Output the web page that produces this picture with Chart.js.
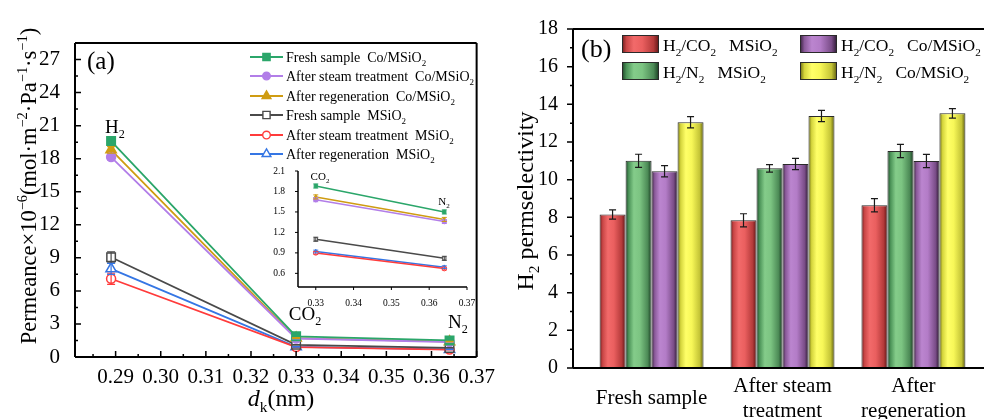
<!DOCTYPE html>
<html>
<head>
<meta charset="utf-8">
<script src="https://cdn.jsdelivr.net/npm/chart.js@4.4.1/dist/chart.umd.min.js"></script>
<style>
html,body{margin:0;padding:0;background:#fff;}
body{width:984px;height:419px;overflow:hidden;position:relative;}
canvas{position:absolute;top:0;}
#permChart{left:0;}
#insetChart{left:250px;top:150px;}
#selChart{left:490px;}
</style>
</head>
<body>
<canvas id="permChart" width="495" height="419"></canvas>
<canvas id="insetChart" width="230" height="160"></canvas>
<canvas id="selChart" width="520" height="419"></canvas>
<script>
// Panel (a): permeance vs kinetic diameter (H2, CO2, N2)
const diameters = [0.289, 0.33, 0.364];
const freshCo = [19.6, 1.88, 1.50];
const steamCo = [18.15, 1.68, 1.36];
const regenCo = [18.8, 1.72, 1.39];
const freshM = [9.05, 1.10, 0.82];
const steamM = [7.1, 0.90, 0.67];
const regenM = [8.0, 0.92, 0.69];
const freshCoErr = [0.3, 0.03, 0.03];
const steamCoErr = [0.25, 0.03, 0.03];
const regenCoErr = [0.3, 0.03, 0.03];
const freshMErr = [0.5, 0.03, 0.03];
const steamMErr = [0.5, 0.02, 0.02];
const regenMErr = [0.5, 0.02, 0.02];
const permTicksX = [0.29, 0.30, 0.31, 0.32, 0.33, 0.34, 0.35, 0.36, 0.37];
const permMinorX = [0.285, 0.295, 0.305, 0.315, 0.325, 0.335, 0.345, 0.355, 0.365];
const permTicksY = [0, 3, 6, 9, 12, 15, 18, 21, 24, 27];
const permMinorY = [1.5, 4.5, 7.5, 10.5, 13.5, 16.5, 19.5, 22.5, 25.5];
const insetTicksX = [0.33, 0.34, 0.35, 0.36, 0.37];
const insetTicksY = [0.6, 0.9, 1.2, 1.5, 1.8, 2.1];

// Panel (b): H2 permselectivity
const stages = [['Fresh sample'], ['After steam', 'treatment'], ['After', 'regeneration']];
const selCO2M = [8.15, 7.84, 8.64];
const selN2M = [11.0, 10.6, 11.52];
const selCO2Co = [10.45, 10.83, 10.99];
const selN2Co = [13.05, 13.38, 13.52];
const selCO2MErr = [0.25, 0.35, 0.35];
const selN2MErr = [0.35, 0.2, 0.35];
const selCO2CoErr = [0.3, 0.3, 0.35];
const selN2CoErr = [0.3, 0.3, 0.25];
const selTicksY = [0, 2, 4, 6, 8, 10, 12, 14, 16, 18];
const selMinorY = [1, 3, 5, 7, 9, 11, 13, 15, 17];

const SERIF = "'Liberation Serif', 'Times New Roman', serif";
Chart.defaults.font.family = SERIF;
Chart.defaults.color = '#000';

const permSeries = [
  {label: 'Fresh sample  Co/MSiO_{2}', data: freshCo, err: freshCoErr, color: '#2ba66a', style: 'rect', fill: true, r: 6},
  {label: 'After steam treatment  Co/MSiO_{2}', data: steamCo, err: steamCoErr, color: '#b27ee8', style: 'circle', fill: true, r: 4.5},
  {label: 'After regeneration  Co/MSiO_{2}', data: regenCo, err: regenCoErr, color: '#cf9c12', style: 'triangle', fill: true, r: 6},
  {label: 'Fresh sample  MSiO_{2}', data: freshM, err: freshMErr, color: '#4a4a4a', style: 'rect', fill: false, r: 6},
  {label: 'After steam treatment  MSiO_{2}', data: steamM, err: steamMErr, color: '#ff3b3b', style: 'circle', fill: false, r: 4.5},
  {label: 'After regeneration  MSiO_{2}', data: regenM, err: regenMErr, color: '#3576e4', style: 'triangle', fill: false, r: 6}
];

const STOP_POS = [0, 0.12, 0.32, 0.55, 0.85, 1];
const selSeries = [
  {label: 'H_{2}/CO_{2}   MSiO_{2}', data: selCO2M, err: selCO2MErr, shades: ['#6e1c1c','#c94646','#f26a6a','#ea5f5f','#b43a3a','#5e1616']},
  {label: 'H_{2}/N_{2}   MSiO_{2}', data: selN2M, err: selN2MErr, shades: ['#1c4326','#4b9358','#84cc8a','#7cc482','#4c8a56','#183a20']},
  {label: 'H_{2}/CO_{2}   Co/MSiO_{2}', data: selCO2Co, err: selCO2CoErr, shades: ['#36203c','#8a5a99','#bb85cf','#b37cc7','#7a4d88','#2c1832']},
  {label: 'H_{2}/N_{2}   Co/MSiO_{2}', data: selN2Co, err: selN2CoErr, shades: ['#6b6b12','#d4d43c','#ffff68','#f7f758','#c4c436','#5e5e10']}
];
const CAT_PCT = 0.794;

// rich text: _{sub} ^{sup} ~{italic}
function richParts(s) {
  const parts = [];
  let buf = '', i = 0;
  while (i < s.length) {
    const c = s[i];
    if ((c === '_' || c === '^' || c === '~') && s[i + 1] === '{') {
      if (buf) { parts.push({t: buf, k: ''}); buf = ''; }
      const j = s.indexOf('}', i);
      parts.push({t: s.slice(i + 2, j), k: c});
      i = j + 1;
    } else { buf += c; i++; }
  }
  if (buf) parts.push({t: buf, k: ''});
  return parts;
}
function drawRich(ctx, s, x, y, size, align) {
  const parts = richParts(s);
  const fontOf = p => (p.k === '~' ? 'italic ' : '') + ((p.k === '_' || p.k === '^') ? size * 0.64 : size) + 'px ' + SERIF;
  let w = 0;
  parts.forEach(p => { ctx.font = fontOf(p); p.w = ctx.measureText(p.t).width; w += p.w; });
  let cx = align === 'center' ? x - w / 2 : (align === 'right' ? x - w : x);
  ctx.textAlign = 'left';
  ctx.textBaseline = 'alphabetic';
  parts.forEach(p => {
    ctx.font = fontOf(p);
    const dy = p.k === '_' ? size * 0.26 : (p.k === '^' ? -size * 0.42 : 0);
    ctx.fillText(p.t, cx, y + dy);
    cx += p.w;
  });
}

// error bars from dataset.errors
const errorBars = {
  id: 'errorBars',
  afterDatasetsDraw(chart, args, o) {
    const ctx = chart.ctx, ys = chart.scales.y;
    chart.data.datasets.forEach((ds, di) => {
      if (!ds.errors) return;
      const meta = chart.getDatasetMeta(di);
      ctx.save();
      ctx.strokeStyle = o.color || ds.borderColor;
      ctx.lineWidth = o.width;
      meta.data.forEach((el, i) => {
        const d = ds.data[i];
        const v = typeof d === 'object' ? d.y : d;
        const e = ds.errors[i];
        const t = ys.getPixelForValue(v + e), b = ys.getPixelForValue(v - e);
        ctx.beginPath();
        ctx.moveTo(el.x, t); ctx.lineTo(el.x, b);
        ctx.moveTo(el.x - o.cap, t); ctx.lineTo(el.x + o.cap, t);
        ctx.moveTo(el.x - o.cap, b); ctx.lineTo(el.x + o.cap, b);
        ctx.stroke();
      });
      ctx.restore();
    });
  }
};

// axis lines and tick marks
const axesFrame = {
  id: 'axesFrame',
  afterDraw(chart, args, o) {
    const {ctx, chartArea: a, scales: {x, y}} = chart;
    ctx.save();
    ctx.strokeStyle = '#000';
    ctx.lineWidth = o.lineWidth;
    ctx.beginPath();
    if (o.sides.includes('left')) { ctx.moveTo(a.left, a.top); ctx.lineTo(a.left, a.bottom); }
    if (o.sides.includes('bottom')) { ctx.moveTo(a.left, a.bottom); ctx.lineTo(a.right, a.bottom); }
    if (o.sides.includes('top')) { ctx.moveTo(a.left, a.top); ctx.lineTo(a.right, a.top); }
    if (o.sides.includes('right')) { ctx.moveTo(a.right, a.top); ctx.lineTo(a.right, a.bottom); }
    ctx.stroke();
    ctx.lineWidth = o.tickWidth;
    ctx.beginPath();
    const yTick = (v, len) => { const p = y.getPixelForValue(v); ctx.moveTo(a.left, p); ctx.lineTo(a.left + o.dir * len, p); };
    const xTick = (v, len) => { const p = x.getPixelForValue(v); ctx.moveTo(p, a.bottom); ctx.lineTo(p, a.bottom - o.dir * len); };
    (o.yMajor || []).forEach(v => yTick(v, o.major));
    (o.yMinor || []).forEach(v => yTick(v, o.minor));
    (o.xMajor || []).forEach(v => xTick(v, o.major));
    (o.xMinor || []).forEach(v => xTick(v, o.minor));
    ctx.stroke();
    ctx.restore();
  }
};

function permDataset(s, from, small) {
  return {
    label: s.label,
    data: diameters.map((x, i) => ({x: x, y: s.data[i]})).slice(from),
    errors: s.err.slice(from),
    borderColor: s.color,
    backgroundColor: s.fill ? s.color : '#fff',
    borderWidth: small ? 1.5 : 1.8,
    pointStyle: s.style,
    pointRadius: small ? 2.3 : s.r,
    pointBorderWidth: small ? 1 : 1.5,
    pointBorderColor: s.color,
    pointBackgroundColor: s.fill ? s.color : '#fff',
    tension: 0
  };
}

// annotations for panel (a)
const permNotes = {
  id: 'permNotes',
  afterDraw(chart) {
    const ctx = chart.ctx;
    ctx.save();
    ctx.fillStyle = '#000';
    ctx.font = '25px ' + SERIF;
    ctx.textAlign = 'left';
    ctx.fillText('(a)', 87, 69);
    drawRich(ctx, 'H_{2}', 115, 133, 19, 'center');
    drawRich(ctx, 'CO_{2}', 305, 320, 19, 'center');
    drawRich(ctx, 'N_{2}', 458, 328, 19, 'center');
    drawRich(ctx, '~{d}_{k}(nm)', 281, 406, 24, 'center');
    ctx.save();
    ctx.translate(36, 186);
    ctx.rotate(-Math.PI / 2);
    drawRich(ctx, 'Permeance×10^{−6}(mol·m^{−2}·Pa^{−1}·s^{−1})', 0, 0, 22.5, 'center');
    ctx.restore();
    const rows = [57, 76, 96, 115, 135, 154];
    permSeries.forEach((s, i) => {
      const yy = rows[i];
      ctx.strokeStyle = s.color;
      ctx.lineWidth = 1.8;
      ctx.beginPath(); ctx.moveTo(250, yy); ctx.lineTo(283, yy); ctx.stroke();
      ctx.fillStyle = s.fill ? s.color : '#fff';
      ctx.lineWidth = 1.4;
      Chart.helpers.drawPoint(ctx, {pointStyle: s.style, radius: s.r * 0.85, borderWidth: 1.4, rotation: 0}, 266.5, yy);
      ctx.fillStyle = '#000';
      drawRich(ctx, s.label, 286, yy + 5, 14, 'left');
    });
    ctx.restore();
  }
};

new Chart(document.getElementById('permChart'), {
  type: 'line',
  data: {datasets: permSeries.map(s => permDataset(s, 0, false))},
  options: {
    responsive: false, animation: false, devicePixelRatio: 1,
    layout: {padding: {left: 0, right: 9, top: 43, bottom: 0}},
    plugins: {
      legend: {display: false}, tooltip: {enabled: false},
      errorBars: {cap: 4, width: 1.2},
      axesFrame: {sides: ['left', 'bottom', 'top', 'right'], lineWidth: 2, tickWidth: 1.5, dir: 1, major: 6, minor: 3,
        xMajor: permTicksX, xMinor: permMinorX, yMajor: permTicksY, yMinor: permMinorY}
    },
    scales: {
      x: {type: 'linear', min: 0.281, max: 0.37,
        grid: {display: false}, border: {display: false},
        afterBuildTicks: s => { s.ticks = permTicksX.map(v => ({value: v})); },
        afterFit: s => { s.height = 62; },
        ticks: {padding: 0, maxRotation: 0, autoSkip: false, font: {size: 21}, callback: v => v.toFixed(2)}},
      y: {type: 'linear', min: 0, max: 28.5,
        grid: {display: false}, border: {display: false},
        afterBuildTicks: s => { s.ticks = permTicksY.map(v => ({value: v})); },
        afterFit: s => { s.width = 75; },
        ticks: {padding: 7, autoSkip: false, font: {size: 21}, callback: v => String(v)}}
    }
  },
  plugins: [errorBars, axesFrame, permNotes]
});

// inset
const insetNotes = {
  id: 'insetNotes',
  afterDraw(chart) {
    const ctx = chart.ctx;
    ctx.save();
    ctx.fillStyle = '#000';
    drawRich(ctx, 'CO_{2}', 70, 30, 11, 'center');
    drawRich(ctx, 'N_{2}', 194, 55, 11, 'center');
    ctx.restore();
  }
};

new Chart(document.getElementById('insetChart'), {
  type: 'line',
  data: {datasets: permSeries.map(s => permDataset(s, 1, true))},
  options: {
    responsive: false, animation: false, devicePixelRatio: 1,
    layout: {padding: {left: 0, right: 13, top: 21, bottom: 0}},
    plugins: {
      legend: {display: false}, tooltip: {enabled: false},
      errorBars: {cap: 2.5, width: 1},
      axesFrame: {sides: ['left', 'bottom'], lineWidth: 1.5, tickWidth: 1, dir: -1, major: 3, minor: 0,
        xMajor: insetTicksX, yMajor: insetTicksY}
    },
    scales: {
      x: {type: 'linear', min: 0.3253, max: 0.37,
        grid: {display: false}, border: {display: false},
        afterBuildTicks: s => { s.ticks = insetTicksX.map(v => ({value: v})); },
        afterFit: s => { s.height = 23; },
        ticks: {padding: 3, maxRotation: 0, autoSkip: false, font: {size: 9.5}, callback: v => v.toFixed(2)}},
      y: {type: 'linear', min: 0.4, max: 2.1,
        grid: {display: false}, border: {display: false},
        afterBuildTicks: s => { s.ticks = insetTicksY.map(v => ({value: v})); },
        afterFit: s => { s.width = 48; },
        ticks: {padding: 5, autoSkip: false, font: {size: 9.5}, callback: v => v.toFixed(1)}}
    }
  },
  plugins: [errorBars, axesFrame, insetNotes]
});

// panel (b)
function shadeGradient(ctx, shades, x0, x1) {
  const g = ctx.createLinearGradient(x0, 0, x1, 0);
  STOP_POS.forEach((p, i) => g.addColorStop(p, shades[i]));
  return g;
}
function barFill(c, shades) {
  if (c.type !== 'data') return shades[2];
  const xs = c.chart.scales.x;
  if (!xs || !isFinite(xs.left) || !isFinite(xs.right) || xs.right <= xs.left) return shades[2];
  const unit = xs.getPixelForValue(2) - xs.getPixelForValue(1);
  const group = unit * CAT_PCT, w = group / selSeries.length;
  const left = xs.getPixelForValue(c.parsed.x) - group / 2 + c.datasetIndex * w;
  return shadeGradient(c.chart.ctx, shades, left, left + w);
}

const selNotes = {
  id: 'selNotes',
  afterDraw(chart) {
    const ctx = chart.ctx;
    ctx.save();
    ctx.fillStyle = '#000';
    ctx.font = '26px ' + SERIF;
    ctx.textAlign = 'left';
    ctx.fillText('(b)', 91, 57);
    ctx.save();
    ctx.translate(43, 201);
    ctx.rotate(-Math.PI / 2);
    drawRich(ctx, 'H_{2} permselectivity', 0, 0, 24, 'center');
    ctx.restore();
    const boxes = [[132, 35], [132, 62], [310, 35], [310, 62]];
    selSeries.forEach((s, i) => {
      const [bx, by] = boxes[i];
      ctx.fillStyle = shadeGradient(ctx, s.shades, bx, bx + 37);
      ctx.fillRect(bx, by, 37, 18);
      ctx.strokeStyle = '#2a2a2a';
      ctx.lineWidth = 1;
      ctx.strokeRect(bx + 0.5, by + 0.5, 36, 17);
      ctx.fillStyle = '#000';
      drawRich(ctx, s.label, bx + 41, by + 16, 17.5, 'left');
    });
    ctx.restore();
  }
};

new Chart(document.getElementById('selChart'), {
  type: 'bar',
  data: {
    datasets: selSeries.map(s => ({
      label: s.label,
      data: s.data.map((v, i) => ({x: i + 1, y: v})),
      errors: s.err,
      backgroundColor: c => barFill(c, s.shades),
      borderColor: '#2a2a2a',
      borderWidth: 1,
      categoryPercentage: CAT_PCT,
      barPercentage: 1
    }))
  },
  options: {
    responsive: false, animation: false, devicePixelRatio: 1,
    layout: {padding: {left: 0, right: 18, top: 29, bottom: 0}},
    plugins: {
      legend: {display: false}, tooltip: {enabled: false},
      errorBars: {cap: 3.5, width: 1.2, color: '#1a1a1a'},
      axesFrame: {sides: ['left', 'bottom', 'top'], lineWidth: 2, tickWidth: 1.5, dir: -1, major: 6, minor: 3,
        yMajor: selTicksY, yMinor: selMinorY}
    },
    scales: {
      x: {type: 'linear', min: 0.4, max: 3.6, offset: false,
        grid: {display: false}, border: {display: false},
        afterBuildTicks: s => { s.ticks = stages.map((_, i) => ({value: i + 1})); },
        afterFit: s => { s.height = 51; },
        ticks: {padding: 10, crossAlign: 'center', maxRotation: 0, autoSkip: false,
          font: {size: 21, lineHeight: 1.2}, callback: v => stages[Math.round(v) - 1]}},
      y: {type: 'linear', min: 0, max: 18,
        grid: {display: false}, border: {display: false},
        afterBuildTicks: s => { s.ticks = selTicksY.map(v => ({value: v})); },
        afterFit: s => { s.width = 83; },
        ticks: {padding: 7, autoSkip: false, font: {size: 20}, callback: v => String(v)}}
    }
  },
  plugins: [errorBars, axesFrame, selNotes]
});
</script>
</body>
</html>
